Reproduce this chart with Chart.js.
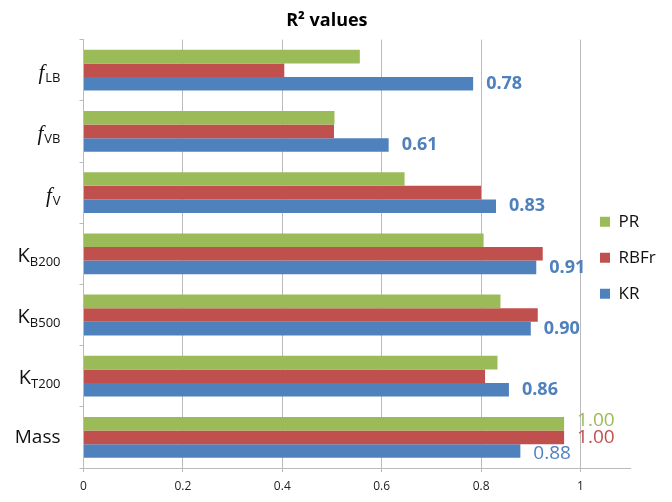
<!DOCTYPE html>
<html>
<head>
<meta charset="utf-8">
<script src="https://cdn.jsdelivr.net/npm/chart.js@4/dist/chart.umd.min.js"></script>
<style>
  html, body { margin: 0; padding: 0; background: #ffffff; }
  #wrap { width: 672px; height: 502px; }
</style>
</head>
<body>
<div id="wrap"><canvas id="c" width="672" height="502"></canvas></div>
<script>
// ---- data ----
const catMain = ['f', 'f', 'f', 'K', 'K', 'K', 'Mass'];
const catSub  = ['LB', 'VB', 'V', 'B200', 'B500', 'T200', ''];
const seriesNames = ['PR', 'RBFr', 'KR'];
const prValues   = [0.556, 0.505, 0.646, 0.805, 0.839, 0.833, 0.967];
const rbfrValues = [0.404, 0.504, 0.800, 0.924, 0.914, 0.808, 0.967];
const krValues   = [0.784, 0.614, 0.830, 0.911, 0.900, 0.856, 0.879];
const prLabels   = ['', '', '', '', '', '', '1.00'];
const rbfrLabels = ['', '', '', '', '', '', '1.00'];
const krLabels   = ['0.78', '0.61', '0.83', '0.91', '0.90', '0.86', '0.88'];
const xTicks      = [0, 0.2, 0.4, 0.6, 0.8, 1];
const xTickLabels = ['0', '0.2', '0.4', '0.6', '0.8', '1'];
const chartTitle = 'R² values';

const categories = catMain.map((m, i) => m + catSub[i]);
const colors = ['#9BBB59', '#C0504D', '#4F81BD'];
const valueLabels = [prLabels, rbfrLabels, krLabels];
const SANS = '"Open Sans", "Noto Sans", sans-serif';

const yLabelPlugin = {
  id: 'yLabels',
  afterDraw(chart) {
    const ctx = chart.ctx;
    const ys = chart.scales.y;
    const right = ys.right - 23;
    ctx.save();
    ctx.fillStyle = '#111';
    ctx.textBaseline = 'alphabetic';
    catMain.forEach((m, i) => {
      const cy = ys.getPixelForValue(i);
      const sub = catSub[i];
      let subW = 0;
      if (sub) {
        ctx.font = '13px ' + SANS;
        subW = ctx.measureText(sub).width;
        ctx.textAlign = 'left';
        ctx.fillText(sub, right - subW, cy + 12);
      }
      if (m === 'f') {
        ctx.font = 'italic 21px "Liberation Serif", "DejaVu Serif", serif';
        ctx.textAlign = 'right';
        ctx.fillText(m, right - subW - 1, cy + 9);
      } else if (sub) {
        ctx.font = '20px ' + SANS;
        ctx.textAlign = 'right';
        ctx.fillText(m, right - subW, cy + 8);
      } else {
        ctx.font = '19px ' + SANS;
        ctx.textAlign = 'right';
        ctx.fillText(m, right, cy + 6);
      }
    });
    ctx.restore();
  }
};

const valueLabelPlugin = {
  id: 'valueLabels',
  afterDatasetsDraw(chart) {
    const ctx = chart.ctx;
    ctx.save();
    ctx.textAlign = 'left';
    ctx.textBaseline = 'middle';
    chart.data.datasets.forEach((ds, di) => {
      const meta = chart.getDatasetMeta(di);
      meta.data.forEach((el, i) => {
        const txt = valueLabels[di][i];
        if (!txt) return;
        const last = i === categories.length - 1;
        ctx.font = (last ? '19px ' : 'bold 18px ') + SANS;
        ctx.fillStyle = colors[di];
        const dy = last ? (di - 1) * 3 : 0;
        ctx.fillText(txt, el.x + 13, el.y + dy);
      });
    });
    ctx.restore();
  }
};

const legendMovePlugin = {
  id: 'legendMove',
  afterLayout(chart) {
    const lg = chart.legend;
    if (!lg) return;
    const h = lg.height;
    lg.left = 581;
    lg.right = 672;
    lg.top = chart.chartArea.top + 4;
    lg.bottom = lg.top + h;
  }
};

new Chart(document.getElementById('c'), {
  type: 'bar',
  data: {
    labels: categories,
    datasets: [
      { label: seriesNames[0], data: prValues,   backgroundColor: colors[0], borderWidth: 0 },
      { label: seriesNames[1], data: rbfrValues, backgroundColor: colors[1], borderWidth: 0 },
      { label: seriesNames[2], data: krValues,   backgroundColor: colors[2], borderWidth: 0 }
    ]
  },
  options: {
    indexAxis: 'y',
    responsive: false,
    animation: false,
    devicePixelRatio: 1,
    layout: { padding: { left: 23.5, right: 41.8, top: 0, bottom: 0 } },
    datasets: { bar: { categoryPercentage: 0.667, barPercentage: 1 } },
    scales: {
      x: {
        min: 0,
        max: 1.1,
        afterBuildTicks(scale) { scale.ticks = xTicks.map(v => ({ value: v })); },
        afterFit(scale) { scale.height = 34; },
        ticks: {
          callback: (v, i) => xTickLabels[i],
          font: { family: SANS, size: 12 },
          color: '#222',
          padding: 7,
          maxRotation: 0
        },
        grid: { color: '#BBBBBB', lineWidth: 1, tickLength: 4, drawTicks: true },
        border: { display: true, color: '#BBBBBB' }
      },
      y: {
        afterFit(scale) { scale.width = 60; },
        ticks: { display: false },
        grid: { offset: true, drawOnChartArea: false, drawTicks: true, tickLength: 4, color: '#BBBBBB' },
        border: { display: true, color: '#BBBBBB' }
      }
    },
    plugins: {
      title: {
        display: true,
        text: chartTitle,
        font: { family: SANS, size: 18, weight: 'bold' },
        color: '#000',
        padding: { top: 10, bottom: 8 }
      },
      legend: {
        position: 'chartArea',
        align: 'center',
        labels: {
          boxWidth: 10,
          boxHeight: 10,
          padding: 19,
          color: '#111',
          font: { family: SANS, size: 17 }
        }
      },
      tooltip: { enabled: false }
    }
  },
  plugins: [yLabelPlugin, valueLabelPlugin, legendMovePlugin]
});
</script>
</body>
</html>
